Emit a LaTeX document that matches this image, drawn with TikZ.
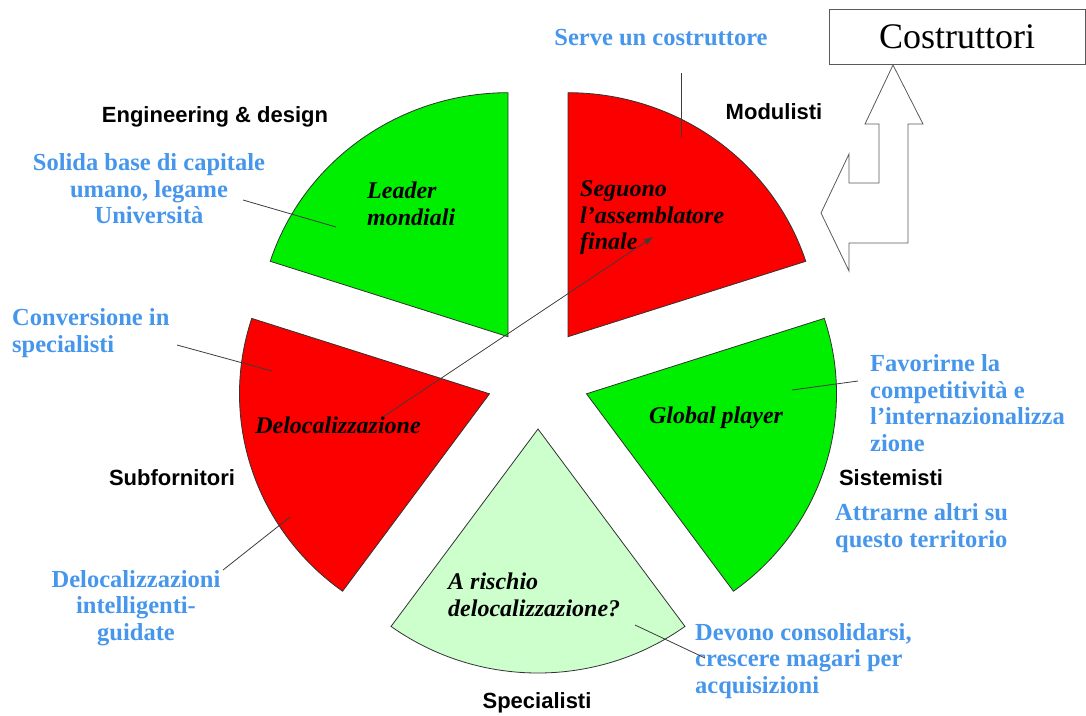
\documentclass[tikz,border=0pt]{standalone}
\usepackage{fontspec}
\setmainfont{Liberation Serif}
\setsansfont{Liberation Sans}
\usetikzlibrary{arrows.meta,calc}
\definecolor{pgreen}{RGB}{0,238,0}
\definecolor{pred}{RGB}{252,0,0}
\definecolor{plight}{RGB}{204,255,204}
\definecolor{tblue}{RGB}{70,150,235}
\definecolor{outl}{RGB}{50,50,50}
\definecolor{lgray}{RGB}{60,60,60}
\definecolor{agray}{RGB}{90,90,90}
\begin{document}
\begin{tikzpicture}[x=1pt,y=-1pt,
  slice/.style={draw=outl,line width=0.8pt},
  bluetext/.style={text=tblue,font=\fontsize{24.5}{26.5}\selectfont\bfseries,inner sep=0pt},
  cattext/.style={font=\sffamily\bfseries\fontsize{22}{25}\selectfont,inner sep=0pt},
  intext/.style={font=\bfseries\itshape\fontsize{24}{26.5}\selectfont,inner sep=0pt},
  conn/.style={draw=lgray,line width=0.8pt}]
\useasboundingbox (0,0) rectangle (1086,715);
% pie slices (center 538,378; offset 51; radii 250/244)
\filldraw[slice,fill=pgreen] (508.0,336.7) -- ++(-90:250 and 244) arc[start angle=-90,end angle=-162,x radius=250,y radius=244] -- cycle;
\filldraw[slice,fill=pred] (568.0,336.7) -- ++(-18:250 and 244) arc[start angle=-18,end angle=-90,x radius=250,y radius=244] -- cycle;
\filldraw[slice,fill=pred] (489.5,393.8) -- ++(-162:250 and 244) arc[start angle=-162,end angle=-234,x radius=250,y radius=244] -- cycle;
\filldraw[slice,fill=plight] (538,429) -- ++(-234:250 and 244) arc[start angle=-234,end angle=-306,x radius=250,y radius=244] -- cycle;
\filldraw[slice,fill=pgreen] (586.5,393.8) -- ++(-306:250 and 244) arc[start angle=-306,end angle=-378,x radius=250,y radius=244] -- cycle;
% texts inside slices
\node[intext,anchor=west,align=left] (leader) at (367,204) {Leader\\mondiali};
\node[intext,anchor=west,align=left] (seguono) at (580,218) {Seguono\\l’assemblatore\\finale};
\node[intext] (deloc) at (338,425) {Delocalizzazione};
\node[intext] (global) at (716,418) {Global player};
\node[intext,anchor=west,align=left] (rischio) at (448,595) {A rischio\\delocalizzazione?};
% category labels
\node[cattext] (eng) at (215,117) {Engineering \& design};
\node[cattext] (modul) at (774,112) {Modulisti};
\node[cattext] (subf) at (172,478) {Subfornitori};
\node[cattext] (sist) at (891,478) {Sistemisti};
\node[cattext] (spec) at (537,703) {Specialisti};
% blue comments
\node[bluetext] (serve) at (661,38) {Serve un costruttore};
\node[bluetext,align=center] (solida) at (149,189) {Solida base di capitale\\umano, legame\\Università};
\node[bluetext,anchor=west,align=left] (conv) at (12,333) {Conversione in\\specialisti};
\node[bluetext,align=center] (delint) at (136,608) {Delocalizzazioni\\intelligenti-\\guidate};
\node[bluetext,anchor=west,align=left] (devono) at (695,661) {Devono consolidarsi,\\crescere magari per\\acquisizioni};
\node[bluetext,anchor=west,align=left] (favor) at (870,403) {Favorirne la\\competitività e\\l’internazionalizza\\zione};
\node[bluetext,anchor=west,align=left] (attr) at (835,528) {Attrarne altri su\\questo territorio};
% Costruttori box
\node[draw=agray,line width=0.8pt,minimum width=256pt,minimum height=55pt,inner sep=0pt,font=\fontsize{36}{40}\selectfont] (costr) at (957,36.5) {Costruttori};
% double arrow
\draw[draw=agray,line width=0.8pt,fill=white,line join=miter] (893,65) -- (923,124) -- (908,124) -- (908,243) -- (849,243) -- (849,271) -- (821,213) -- (849,154) -- (849,183) -- (879,183) -- (879,124) -- (865,124) -- cycle;
% connector end points
\coordinate (s1) at (681,73);   \coordinate (s2) at (681,137);
\coordinate (a1) at (243,200);  \coordinate (a2) at (336,227);
\coordinate (b1) at (177,345);  \coordinate (b2) at (272,371);
\coordinate (c1) at (223,570);  \coordinate (c2) at (290,517);
\coordinate (d1) at (383,417);  \coordinate (d2) at (653,237);
\coordinate (e1) at (858,381);  \coordinate (e2) at (792,390);
\coordinate (f1) at (635,625);  \coordinate (f2) at (705,658);
\draw[conn] (s1) -- (s2);
\draw[conn] (a1) -- (a2);
\draw[conn] (b1) -- (b2);
\draw[conn] (c1) -- (c2);
\draw[conn,-{Latex[length=9pt,width=7pt]}] (d1) -- (d2);
\draw[conn] (e1) -- (e2);
\draw[conn] (f1) -- (f2);
\end{tikzpicture}
\end{document}
